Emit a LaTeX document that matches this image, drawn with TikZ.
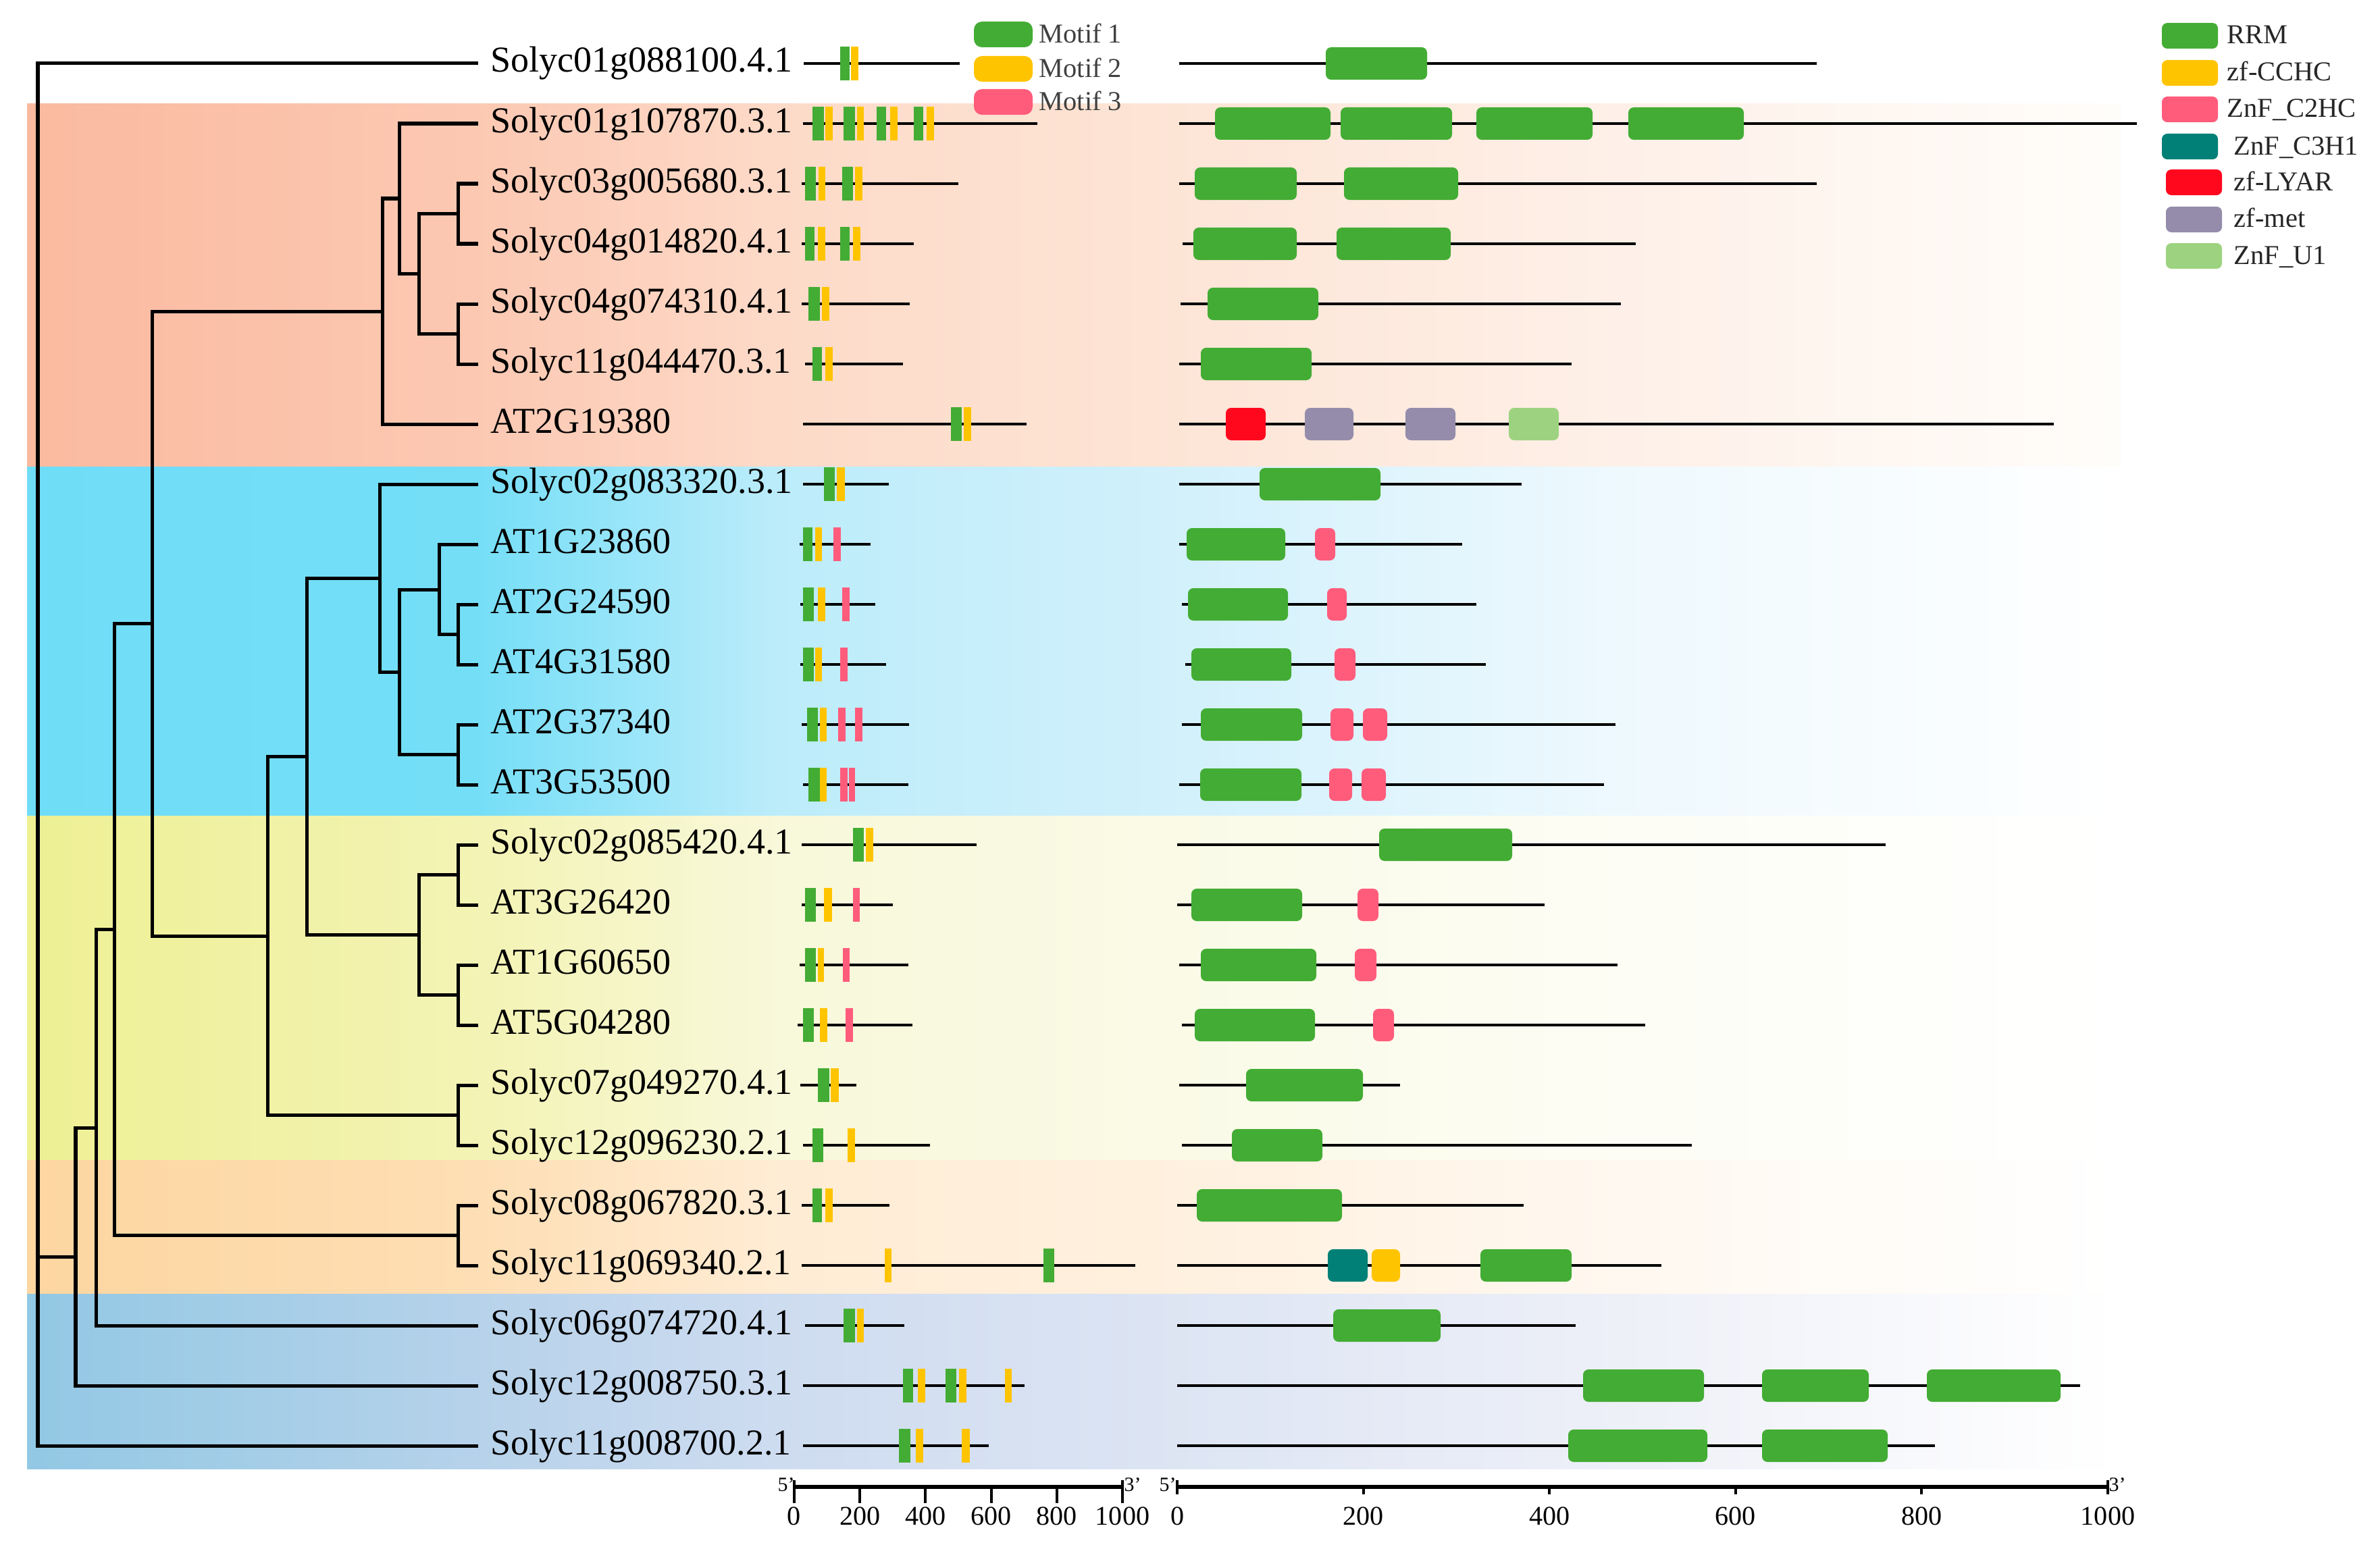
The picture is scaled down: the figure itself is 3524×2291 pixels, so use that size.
\documentclass[tikz,border=0pt]{standalone}
\usepackage{fontspec}
\setmainfont{Liberation Serif}
\definecolor{cG}{RGB}{67,172,52}
\definecolor{cY}{RGB}{255,196,0}
\definecolor{cP}{RGB}{255,92,124}
\definecolor{cT}{RGB}{0,128,118}
\definecolor{cR}{RGB}{255,8,30}
\definecolor{cM}{RGB}{148,140,170}
\definecolor{cL}{RGB}{157,211,128}
% band colours
\definecolor{sa0}{RGB}{250,186,160}\definecolor{sa1}{RGB}{252,200,178}\definecolor{sa2}{RGB}{253,218,200}
\definecolor{sa3}{RGB}{253,228,213}\definecolor{sa4}{RGB}{254,240,232}\definecolor{sa5}{RGB}{255,253,250}
\definecolor{cy0}{RGB}{112,221,247}\definecolor{cy1}{RGB}{116,222,247}\definecolor{cy2}{RGB}{188,236,250}
\definecolor{cy3}{RGB}{208,240,251}\definecolor{cy4}{RGB}{238,249,254}\definecolor{cy5}{RGB}{255,255,255}
\definecolor{ye0}{RGB}{238,240,148}\definecolor{ye1}{RGB}{243,243,180}\definecolor{ye2}{RGB}{248,248,218}
\definecolor{ye3}{RGB}{250,250,230}\definecolor{ye4}{RGB}{253,253,245}\definecolor{ye5}{RGB}{255,255,255}
\definecolor{or0}{RGB}{253,214,160}\definecolor{or1}{RGB}{254,222,180}\definecolor{or2}{RGB}{255,236,212}
\definecolor{or3}{RGB}{255,240,222}\definecolor{or4}{RGB}{255,248,240}\definecolor{or5}{RGB}{255,255,255}
\definecolor{bl0}{RGB}{146,200,228}\definecolor{bl1}{RGB}{182,210,234}\definecolor{bl2}{RGB}{206,220,240}
\definecolor{bl3}{RGB}{220,228,243}\definecolor{bl4}{RGB}{238,240,248}\definecolor{bl5}{RGB}{255,255,255}
\newcommand\bandshade[2]{%
\pgfdeclarehorizontalshading{#1}{100bp}{color(0bp)=(#20); color(25bp)=(#20); color(35.65bp)=(#21);
 color(42.9bp)=(#22); color(51.8bp)=(#23); color(63.1bp)=(#24); color(75bp)=(#25); color(100bp)=(#25)}}
\bandshade{salsh}{sa}
\bandshade{cyash}{cy}
\bandshade{yelsh}{ye}
\bandshade{orash}{or}
\bandshade{blush}{bl}
\newcommand\mf[4]{\fill[#1] (#2,#4-25) rectangle (#3,#4+25);}
\newcommand\dm[4]{\fill[#1,rounded corners=0.08cm] (#2,#4-24) rectangle (#3,#4+24);}
\newcommand\pl[3]{\draw[protline] (#1,#3) -- (#2,#3);}
\tikzset{
  tree/.style={line width=0.05cm, black},
  protline/.style={line width=0.045cm, black},
  lab/.style={font=\fontsize{15.36pt}{18pt}\selectfont, inner sep=0pt, anchor=base west},
  leglab/.style={font=\fontsize{11.5pt}{13pt}\selectfont, inner sep=0pt, anchor=base west},
  axlab/.style={font=\fontsize{11.4pt}{13pt}\selectfont, inner sep=0pt, anchor=base},
  endlab/.style={font=\fontsize{8.5pt}{10pt}\selectfont, inner sep=0pt},
}
\begin{document}
\begin{tikzpicture}[x=0.01cm, y=-0.01cm]
\useasboundingbox (0,0) rectangle (3524,2291);
\fill[white] (0,0) rectangle (3524,2291);
% bands
\shade[shading=salsh] (40,154) rectangle (3140,691);
\shade[shading=cyash] (40,691) rectangle (3140,1208);
\shade[shading=yelsh] (40,1208) rectangle (3140,1718);
\shade[shading=orash] (40,1718) rectangle (3140,1916);
\shade[shading=blush] (40,1916) rectangle (3140,2175);
% leaves
\foreach \i in {1,...,24} \coordinate (f\i) at (708,{94+89*(\i-1)});
% inner nodes
\coordinate (root) at (56,1861);
\coordinate (n50) at (112,1861);
\coordinate (n63) at (142,1670);
\coordinate (n75) at (169,1376.5);
\coordinate (top) at (225,923.5);
\coordinate (sal) at (566,461);
\coordinate (s2) at (591,294);
\coordinate (s3456) at (620,405.5);
\coordinate (s34) at (678,316.5);
\coordinate (s56) at (678,494.5);
\coordinate (cyy) at (396,1386);
\coordinate (cy) at (454,1120);
\coordinate (cyan) at (562,856);
\coordinate (c913) at (591,995);
\coordinate (c9) at (650,873);
\coordinate (c1011) at (678,939.5);
\coordinate (c1213) at (678,1117.5);
\coordinate (y1417) at (620,1384.5);
\coordinate (y1415) at (678,1295.5);
\coordinate (y1617) at (678,1473.5);
\coordinate (y1819) at (678,1651.5);
\coordinate (o2021) at (678,1829.5);
\foreach \p/\c in {root/f1,root/n50,root/f24,n50/n63,n50/f23,n63/n75,n63/f22,n75/top,n75/o2021,
  top/sal,top/cyy,sal/s2,sal/f7,s2/f2,s2/s3456,s3456/s34,s3456/s56,s34/f3,s34/f4,s56/f5,s56/f6,
  cyy/cy,cyy/y1819,cy/cyan,cy/y1417,cyan/f8,cyan/c913,c913/c9,c913/c1213,c9/f9,c9/c1011,
  c1011/f10,c1011/f11,c1213/f12,c1213/f13,y1417/y1415,y1417/y1617,y1415/f14,y1415/f15,
  y1617/f16,y1617/f17,y1819/f18,y1819/f19,o2021/f20,o2021/f21}
  \draw[tree] (\p) |- (\c);
% labels
\foreach \i/\t in {1/Solyc01g088100.4.1,2/Solyc01g107870.3.1,3/Solyc03g005680.3.1,4/Solyc04g014820.4.1,
  5/Solyc04g074310.4.1,6/Solyc11g044470.3.1,7/AT2G19380,8/Solyc02g083320.3.1,9/AT1G23860,10/AT2G24590,
  11/AT4G31580,12/AT2G37340,13/AT3G53500,14/Solyc02g085420.4.1,15/AT3G26420,16/AT1G60650,17/AT5G04280,
  18/Solyc07g049270.4.1,19/Solyc12g096230.2.1,20/Solyc08g067820.3.1,21/Solyc11g069340.2.1,
  22/Solyc06g074720.4.1,23/Solyc12g008750.3.1,24/Solyc11g008700.2.1}
  \node[lab] (l\i) at (726,{94+89*(\i-1)+13}) {\t};
% ---------- motif panel ----------
\pl{1190}{1421}{94} \mf{cG}{1244}{1258}{94} \mf{cY}{1260}{1271}{94}
\pl{1189}{1536}{183} \mf{cG}{1203}{1220}{183} \mf{cY}{1222}{1233}{183} \mf{cG}{1249}{1266}{183} \mf{cY}{1269}{1279}{183}
 \mf{cG}{1298}{1312}{183} \mf{cY}{1318}{1329}{183} \mf{cG}{1353}{1367}{183} \mf{cY}{1372}{1383}{183}
\pl{1187}{1419}{272} \mf{cG}{1192}{1208}{272} \mf{cY}{1212}{1222}{272} \mf{cG}{1247}{1263}{272} \mf{cY}{1266}{1277}{272}
\pl{1187}{1353}{361} \mf{cG}{1192}{1206}{361} \mf{cY}{1211}{1222}{361} \mf{cG}{1244}{1258}{361} \mf{cY}{1263}{1274}{361}
\pl{1187}{1347}{450} \mf{cG}{1197}{1214}{450} \mf{cY}{1217}{1228}{450}
\pl{1192}{1337}{539} \mf{cG}{1203}{1217}{539} \mf{cY}{1222}{1233}{539}
\pl{1189}{1520}{628} \mf{cG}{1408}{1424}{628} \mf{cY}{1427}{1438}{628}
\pl{1189}{1316}{717} \mf{cG}{1220}{1236}{717} \mf{cY}{1239}{1251}{717}
\pl{1184}{1289}{806} \mf{cG}{1189}{1203}{806} \mf{cY}{1207}{1217}{806} \mf{cP}{1234}{1245}{806}
\pl{1185}{1296}{895} \mf{cG}{1189}{1205}{895} \mf{cY}{1211}{1222}{895} \mf{cP}{1247}{1258}{895}
\pl{1185}{1312}{984} \mf{cG}{1189}{1205}{984} \mf{cY}{1207}{1217}{984} \mf{cP}{1244}{1255}{984}
\pl{1187}{1346}{1073} \mf{cG}{1195}{1211}{1073} \mf{cY}{1214}{1224}{1073} \mf{cP}{1241}{1252}{1073} \mf{cP}{1266}{1277}{1073}
\pl{1189}{1345}{1162} \mf{cG}{1197}{1214}{1162} \mf{cY}{1214}{1224}{1162} \mf{cP}{1244}{1255}{1162} \mf{cP}{1257}{1266}{1162}
\pl{1187}{1446}{1251} \mf{cG}{1263}{1279}{1251} \mf{cY}{1282}{1293}{1251}
\pl{1187}{1322}{1340} \mf{cG}{1192}{1208}{1340} \mf{cY}{1220}{1232}{1340} \mf{cP}{1263}{1273}{1340}
\pl{1184}{1345}{1429} \mf{cG}{1192}{1208}{1429} \mf{cY}{1211}{1220}{1429} \mf{cP}{1248}{1258}{1429}
\pl{1181}{1351}{1518} \mf{cG}{1189}{1205}{1518} \mf{cY}{1214}{1225}{1518} \mf{cP}{1252}{1263}{1518}
\pl{1185}{1268}{1607} \mf{cG}{1211}{1228}{1607} \mf{cY}{1230}{1242}{1607}
\pl{1189}{1377}{1696} \mf{cG}{1203}{1219}{1696} \mf{cY}{1255}{1266}{1696}
\pl{1187}{1317}{1785} \mf{cG}{1203}{1217}{1785} \mf{cY}{1222}{1233}{1785}
\pl{1187}{1681}{1874} \mf{cY}{1310}{1320}{1874} \mf{cG}{1545}{1561}{1874}
\pl{1192}{1339}{1963} \mf{cG}{1249}{1266}{1963} \mf{cY}{1269}{1279}{1963}
\pl{1189}{1517}{2052} \mf{cG}{1337}{1352}{2052} \mf{cY}{1359}{1370}{2052} \mf{cG}{1400}{1416}{2052} \mf{cY}{1420}{1431}{2052} \mf{cY}{1488}{1498}{2052}
\pl{1189}{1464}{2141} \mf{cG}{1331}{1348}{2141} \mf{cY}{1356}{1367}{2141} \mf{cY}{1424}{1436}{2141}
% ---------- domain panel ----------
\pl{1746}{2690}{94} \dm{cG}{1963}{2113}{94}
\pl{1746}{3164}{183} \dm{cG}{1799}{1970}{183} \dm{cG}{1985}{2150}{183} \dm{cG}{2186}{2358}{183} \dm{cG}{2411}{2582}{183}
\pl{1746}{2690}{272} \dm{cG}{1769}{1920}{272} \dm{cG}{1990}{2159}{272}
\pl{1751}{2422}{361} \dm{cG}{1767}{1920}{361} \dm{cG}{1979}{2148}{361}
\pl{1748}{2400}{450} \dm{cG}{1788}{1952}{450}
\pl{1746}{2327}{539} \dm{cG}{1778}{1942}{539}
\pl{1746}{3041}{628} \dm{cR}{1815}{1874}{628} \dm{cM}{1932}{2004}{628} \dm{cM}{2081}{2155}{628} \dm{cL}{2234}{2308}{628}
\pl{1746}{2253}{717} \dm{cG}{1865}{2044}{717}
\pl{1746}{2165}{806} \dm{cG}{1757}{1903}{806} \dm{cP}{1947}{1977}{806}
\pl{1750}{2186}{895} \dm{cG}{1759}{1907}{895} \dm{cP}{1965}{1994}{895}
\pl{1755}{2200}{984} \dm{cG}{1764}{1912}{984} \dm{cP}{1976}{2007}{984}
\pl{1750}{2392}{1073} \dm{cG}{1778}{1928}{1073} \dm{cP}{1970}{2004}{1073} \dm{cP}{2018}{2054}{1073}
\pl{1746}{2375}{1162} \dm{cG}{1777}{1927}{1162} \dm{cP}{1968}{2002}{1162} \dm{cP}{2016}{2052}{1162}
\pl{1743}{2792}{1251} \dm{cG}{2042}{2239}{1251}
\pl{1743}{2287}{1340} \dm{cG}{1764}{1928}{1340} \dm{cP}{2010}{2041}{1340}
\pl{1746}{2395}{1429} \dm{cG}{1778}{1949}{1429} \dm{cP}{2006}{2038}{1429}
\pl{1750}{2436}{1518} \dm{cG}{1769}{1947}{1518} \dm{cP}{2033}{2064}{1518}
\pl{1746}{2073}{1607} \dm{cG}{1845}{2018}{1607}
\pl{1750}{2505}{1696} \dm{cG}{1824}{1958}{1696}
\pl{1743}{2256}{1785} \dm{cG}{1772}{1987}{1785}
\pl{1743}{2460}{1874} \dm{cT}{1966}{2025}{1874} \dm{cY}{2031}{2073}{1874} \dm{cG}{2192}{2327}{1874}
\pl{1743}{2333}{1963} \dm{cG}{1974}{2133}{1963}
\pl{1743}{3080}{2052} \dm{cG}{2344}{2523}{2052} \dm{cG}{2609}{2767}{2052} \dm{cG}{2853}{3051}{2052}
\pl{1743}{2865}{2141} \dm{cG}{2322}{2528}{2141} \dm{cG}{2609}{2795}{2141}
% ---------- motif legend ----------
\foreach \c/\y/\t in {cG/51/Motif 1,cY/102/Motif 2,cP/151/Motif 3}{
  \fill[\c,rounded corners=0.12cm] (1442,\y-19) rectangle (1529,\y+19);
  \node[leglab,text=black!75] at (1538,\y+13) {\t};
}
% ---------- domain legend ----------
\foreach \c/\y/\bx/\tx/\t in {cG/53/3201/3297/RRM,cY/108/3201/3297/zf-CCHC,cP/162/3201/3297/ZnF\_C2HC,
  cT/217/3201/3307/ZnF\_C3H1,cR/270/3207/3307/zf-LYAR,cM/325/3207/3307/zf-met,cL/379/3207/3307/ZnF\_U1}{
  \fill[\c,rounded corners=0.08cm] (\bx,\y-19) rectangle (\bx+83,\y+19);
  \node[leglab,text=black!85] at (\tx,\y+12) {\t};
}
% ---------- axes ----------
\draw[line width=0.065cm] (1176,2202) -- (1662,2202);
\foreach \k in {0,...,5}{
  \pgfmathsetmacro\xx{1176+97.2*\k}
  \draw[line width=0.04cm] (\xx,2202) -- (\xx,2226);
  \pgfmathtruncatemacro\vv{200*\k}
  \node[axlab] at (\xx,2258) {\vv};
}
\draw[line width=0.04cm] (1176,2192) -- (1176,2226);
\draw[line width=0.04cm] (1662,2192) -- (1662,2226);
\node[endlab] at (1164,2199) {5'};
\node[endlab] at (1677,2199) {3'};
\draw[line width=0.065cm] (1743,2202) -- (3121,2202);
\foreach \k in {0,...,5}{
  \pgfmathsetmacro\xx{1743+275.6*\k}
  \draw[line width=0.04cm] (\xx,2202) -- (\xx,2213);
  \pgfmathtruncatemacro\vv{200*\k}
  \node[axlab] at (\xx,2258) {\vv};
}
\draw[line width=0.04cm] (1743,2192) -- (1743,2213);
\draw[line width=0.04cm] (3121,2192) -- (3121,2213);
\node[endlab] at (1729,2199) {5'};
\node[endlab] at (3135,2199) {3'};
\end{tikzpicture}
\end{document}
